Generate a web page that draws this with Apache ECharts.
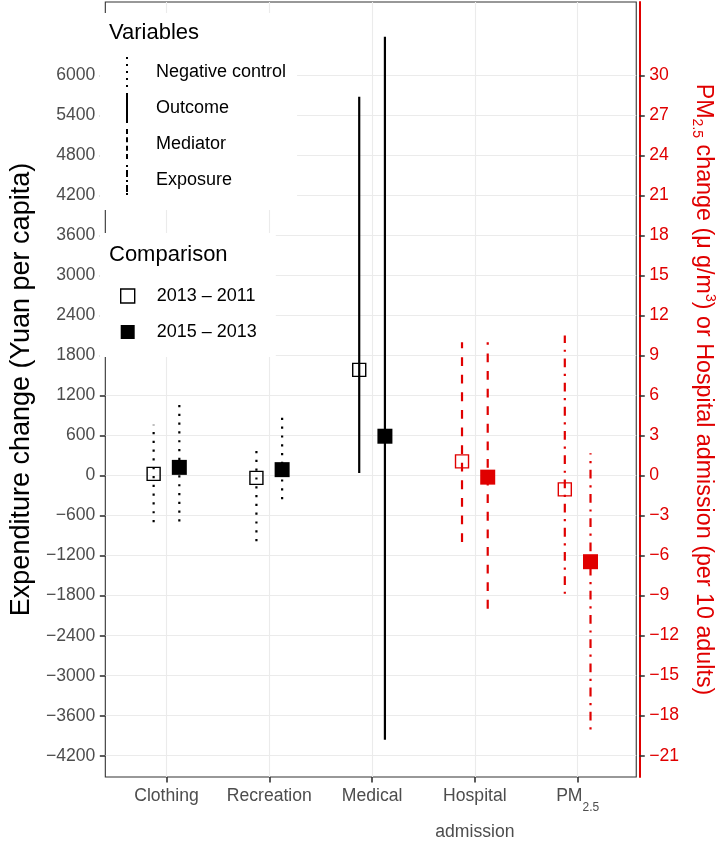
<!DOCTYPE html>
<html><head><meta charset="utf-8">
<script src="https://cdn.jsdelivr.net/npm/echarts@6/dist/echarts.min.js"></script>
<style>html,body{margin:0;padding:0;background:#fff}#c{width:725px;height:850px}</style>
</head><body><div id="c"></div>
<script>
// ---------- data ----------
const categories = ['Clothing', 'Recreation', 'Medical', 'Hospital\nadmission', 'PM2.5'];
const variableOfCategory = ['Negative control', 'Negative control', 'Outcome', 'Mediator', 'Exposure'];
const axisOfCategory = [0, 0, 0, 1, 1]; // 0 = expenditure axis, 1 = PM2.5 / hospital axis
const variables = ['Negative control', 'Outcome', 'Mediator', 'Exposure'];
const comparisons = ['2013 – 2011', '2015 – 2013'];

const est1311 = [25, -34, 1584, 1.06, -1.04];
const lo1311  = [-698, -984, 40, -4.98, -8.87];
const hi1311  = [762, 467, 5680, 10.0, 10.5];

const est1513 = [123, 89, 590, -0.12, -6.46];
const lo1513  = [-689, -354, -3960, -9.98, -19.03];
const hi1513  = [1161, 964, 6580, 10.0, 1.68];

const leftTicks  = [-4200, -3600, -3000, -2400, -1800, -1200, -600, 0, 600, 1200, 1800, 2400, 3000, 3600, 4200, 4800, 5400, 6000];
const rightTicks = [-21, -18, -15, -12, -9, -6, -3, 0, 3, 6, 9, 12, 15, 18, 21, 24, 27, 30];
const leftRange  = [-4519, 7100];
const rightRange = [-22.6, 35.5];

// ---------- styles ----------
const RED = '#E00000';
const FONT = 'Liberation Sans';
const GREY30 = '#4D4D4D';
const GREY20 = '#333333';
const DODGE = 0.125;
const LW = 2.2;
const varStyle = {
  'Negative control': { color: '#000', dash: [LW, 3 * LW] },
  'Outcome':          { color: '#000', dash: null },
  'Mediator':         { color: RED,   dash: [4 * LW, 4 * LW] },
  'Exposure':         { color: RED,   dash: [LW, 3 * LW, 4 * LW, 3 * LW] }
};
const legendIcons = {
  'Negative control': 'path://M0 0h2v2h-2zM0 7h2v2h-2zM0 14h2v2h-2zM0 21h2v2h-2zM0 28h2v2h-2z',
  'Outcome':          'path://M0 0h2v30h-2z',
  'Mediator':         'path://M0 0h2v5h-2zM0 8.3h2v5h-2zM0 16.7h2v5h-2zM0 25h2v5h-2z',
  'Exposure':         'path://M0 0h2v2h-2zM0 5h2v7h-2zM0 15h2v2h-2zM0 20h2v7h-2zM0 28h2v2h-2z'
};
const fmt = v => (v < 0 ? '\u2212' + Math.abs(v) : String(v));
const tickStyle = { show: true, length: 5.5, lineStyle: { color: GREY20, width: 1.6 } };

// ---------- series ----------
const series = [];
const estArr = [est1311, est1513], loArr = [lo1311, lo1513], hiArr = [hi1311, hi1513];

variables.forEach(vName => {
  [0, 1].forEach(ax => {
    const rows = [];
    categories.forEach((c, i) => {
      if (variableOfCategory[i] !== vName || axisOfCategory[i] !== ax) return;
      [0, 1].forEach(k => rows.push([i + 1 + (k === 0 ? -DODGE : DODGE), loArr[k][i], hiArr[k][i]]));
    });
    if (!rows.length) return;
    const st = varStyle[vName];
    series.push({
      name: vName, type: 'custom', xAxisIndex: 0, yAxisIndex: ax, z: 3,
      itemStyle: { color: '#000' },
      data: rows,
      renderItem: (params, api) => {
        const p1 = api.coord([api.value(0), api.value(1)]);
        const p2 = api.coord([api.value(0), api.value(2)]);
        return { type: 'line', shape: { x1: p1[0], y1: p1[1], x2: p2[0], y2: p2[1] },
          style: { stroke: st.color, lineWidth: LW, lineDash: st.dash, lineCap: 'butt' } };
      }
    });
  });
});

comparisons.forEach((cName, k) => {
  [0, 1].forEach(ax => {
    const pts = [];
    categories.forEach((c, i) => {
      if (axisOfCategory[i] !== ax) return;
      pts.push([i + 1 + (k === 0 ? -DODGE : DODGE), estArr[k][i]]);
    });
    const col = ax === 0 ? '#000' : RED;
    series.push({
      name: cName, type: 'scatter', xAxisIndex: 0, yAxisIndex: ax, z: 5,
      symbol: 'rect', symbolSize: k === 0 ? 13 : 15,
      itemStyle: k === 0 ? { color: 'rgba(0,0,0,0)', borderColor: col, borderWidth: 1.4, opacity: 1 } : { color: col, opacity: 1 },
      emphasis: { disabled: true },
      data: pts
    });
  });
});

// ---------- chart ----------
const chart = echarts.init(document.getElementById('c'), null, { renderer: 'canvas' });
chart.setOption({
  animation: false,
  backgroundColor: '#fff',
  textStyle: { fontFamily: FONT },
  grid: { left: 92, top: 2, right: 80, bottom: 62, show: true, borderColor: GREY20, borderWidth: 1.1, backgroundColor: 'transparent' },
  title: [
    { text: 'Variables', left: 109, top: 22, padding: 0, z: 10, textStyle: { fontFamily: FONT, fontSize: 22, fontWeight: 'normal', color: '#000' } },
    { text: 'Comparison', left: 109, top: 244, padding: 0, z: 10, textStyle: { fontFamily: FONT, fontSize: 22, fontWeight: 'normal', color: '#000' } }
  ],
  legend: [
    {
      orient: 'vertical', left: 100, top: 13, padding: [44, 11, 15, 26], backgroundColor: '#fff', z: 6,
      itemWidth: 2, itemHeight: 30, itemGap: 6, selectedMode: false,
      textStyle: { fontFamily: FONT, fontSize: 18, color: '#000', padding: [0, 0, 0, 23] },
      data: variables.map(v => ({ name: v, icon: legendIcons[v], itemStyle: { color: '#000', borderWidth: 0, opacity: 1 } }))
    },
    {
      orient: 'vertical', left: 100, top: 233, padding: [52, 19, 14, 20], backgroundColor: '#fff', z: 6,
      itemWidth: 14, itemHeight: 14, itemGap: 14, selectedMode: false,
      textStyle: { fontFamily: FONT, fontSize: 18, color: '#000', lineHeight: 22, padding: [0, 0, 0, 17] },
      data: [
        { name: comparisons[0], icon: 'rect', itemStyle: { color: 'rgba(0,0,0,0)', borderColor: '#000', borderWidth: 1.4, opacity: 1 } },
        { name: comparisons[1], icon: 'rect', itemStyle: { color: '#000', borderWidth: 0, opacity: 1 } }
      ]
    }
  ],
  xAxis: {
    type: 'value', min: 0.405, max: 5.57,
    axisLine: { show: false, onZero: false },
    axisTick: Object.assign({ customValues: categories.map((c, i) => i + 1) }, tickStyle),
    splitLine: { show: true, lineStyle: { color: '#EBEBEB', width: 1.1 } },
    axisLabel: {
      customValues: categories.map((c, i) => i + 1),
      margin: 1, color: GREY30, fontFamily: FONT, fontSize: 17.6, lineHeight: 36,
      formatter: v => { const s = categories[Math.round(v) - 1] || ''; return s === 'PM2.5' ? 'PM{sub|2.5}' : s; },
      rich: { sub: { fontSize: 12, lineHeight: 26, verticalAlign: 'bottom', color: GREY30, fontFamily: FONT } }
    }
  },
  yAxis: [
    {
      type: 'value', position: 'left', min: leftRange[0], max: leftRange[1],
      name: 'Expenditure change (Yuan per capita)', nameLocation: 'middle', nameGap: 61, nameRotate: 90,
      nameTextStyle: { fontFamily: FONT, fontSize: 27, color: '#000' },
      axisLine: { show: false },
      axisTick: Object.assign({ customValues: leftTicks }, tickStyle),
      splitLine: { show: true, lineStyle: { color: '#EBEBEB', width: 1.1 } },
      axisLabel: { customValues: leftTicks, margin: 10, color: GREY30, fontFamily: FONT, fontSize: 17.6, formatter: fmt }
    },
    {
      type: 'value', position: 'right', offset: 3, min: rightRange[0], max: rightRange[1],
      name: 'PM{sub|2.5} change (μ g/m{sup|3}) or Hospital admission (per 10 adults)',
      nameLocation: 'middle', nameGap: 46, nameRotate: -90,
      nameTextStyle: { fontFamily: FONT, fontSize: 23.3, color: RED, lineHeight: 27,
        rich: { sub: { fontSize: 14, lineHeight: 17, verticalAlign: 'bottom', color: RED, fontFamily: FONT },
                sup: { fontSize: 14, lineHeight: 17, verticalAlign: 'top', color: RED, fontFamily: FONT } } },
      axisLine: { show: true, lineStyle: { color: RED, width: 2 } },
      axisTick: Object.assign({ customValues: rightTicks }, tickStyle),
      splitLine: { show: false },
      axisLabel: { customValues: rightTicks, margin: 10, color: RED, fontFamily: FONT, fontSize: 17.6, formatter: fmt }
    }
  ],
  series: series
});
</script></body></html>
